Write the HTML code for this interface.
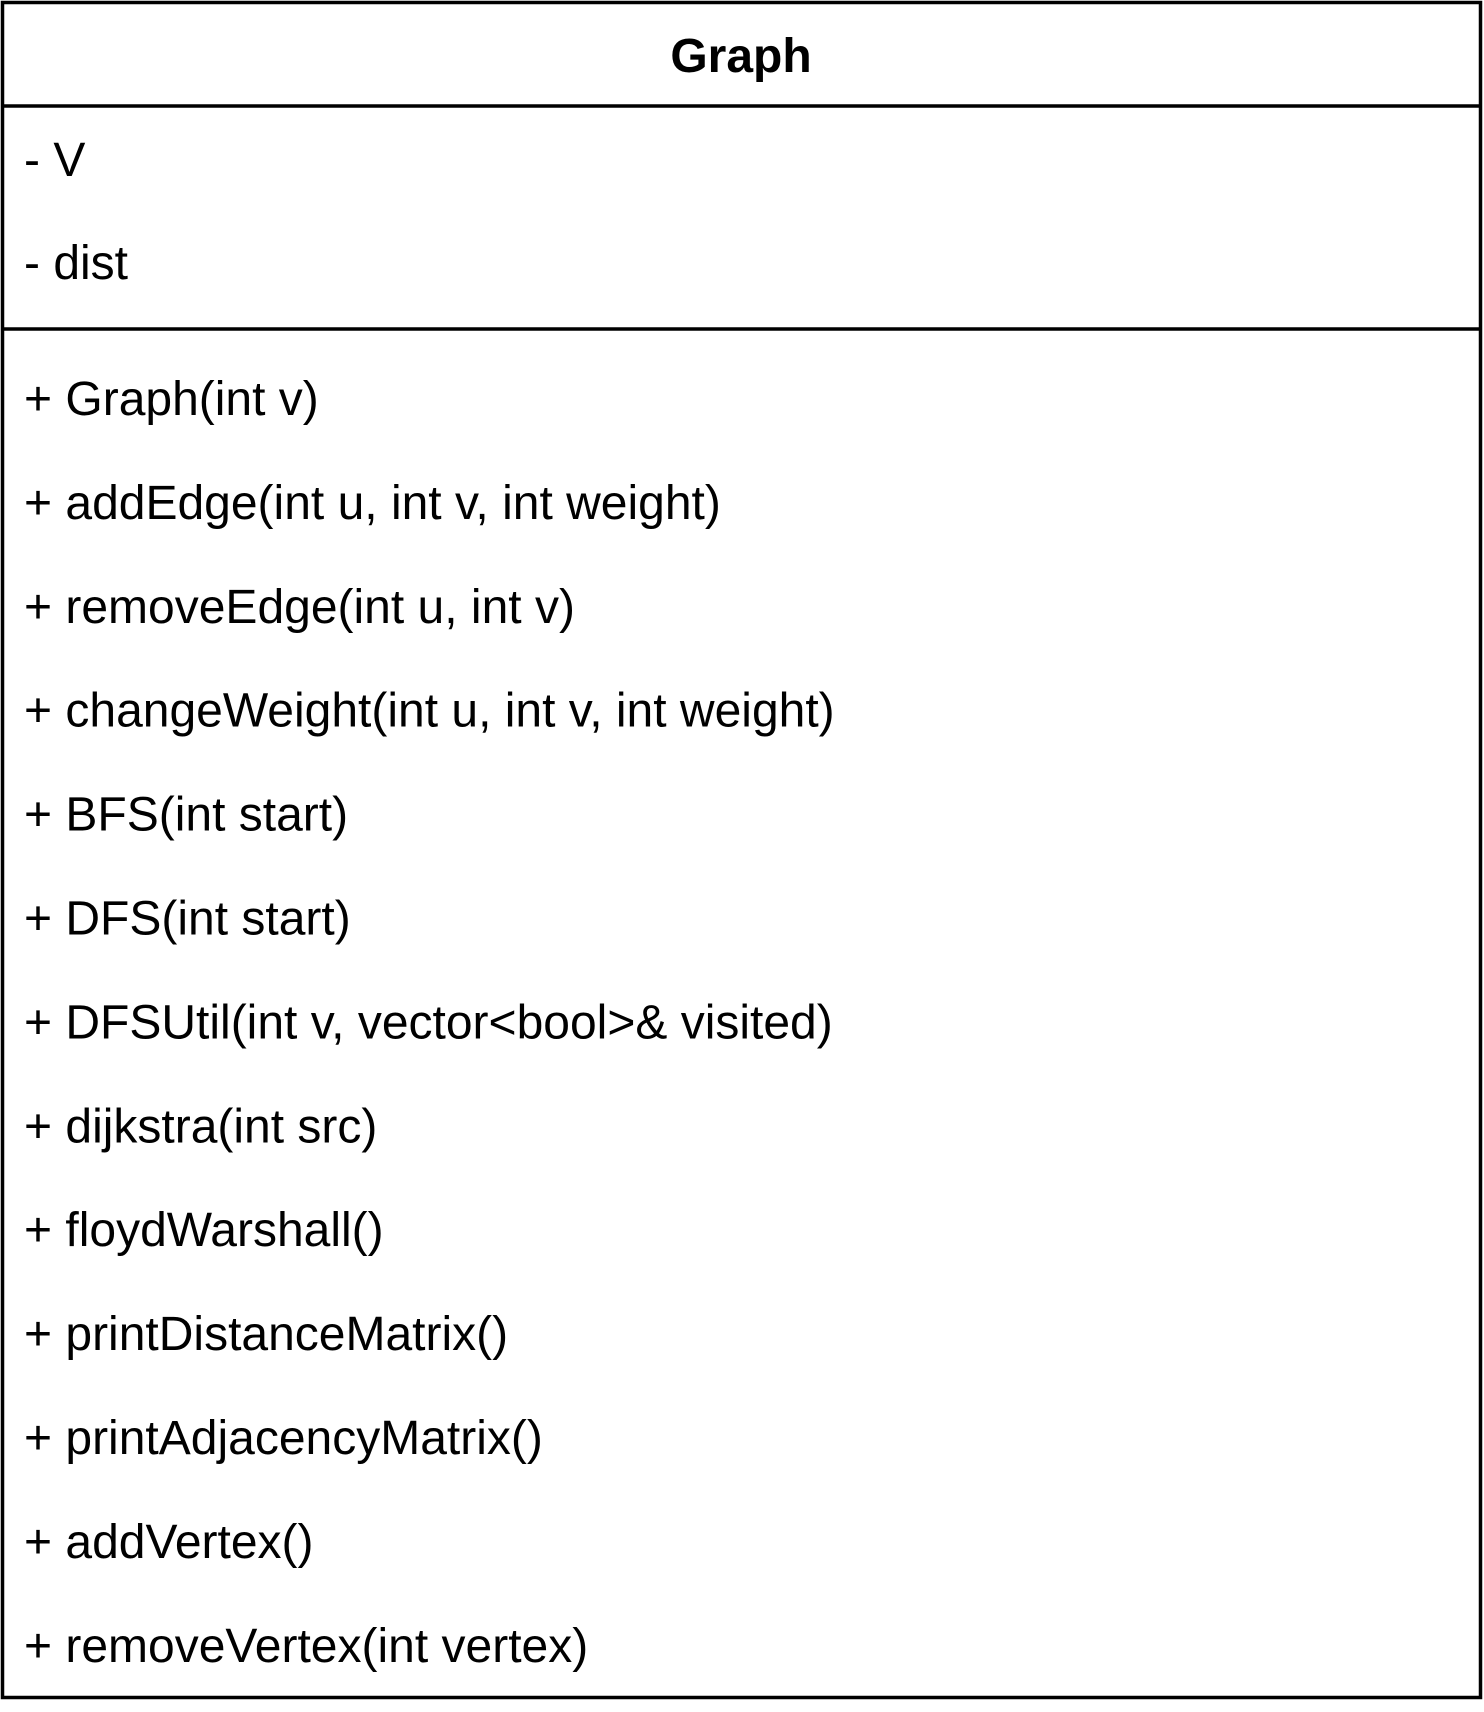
<!DOCTYPE html>
<html><head><style>
html,body{margin:0;padding:0;background:#fff;}
svg{display:block;}
text{font-family:"Liberation Sans",Arial,sans-serif;font-size:48px;fill:#000;}
</style></head><body>
<svg width="1484" height="1712" viewBox="0 0 1484 1712" xmlns="http://www.w3.org/2000/svg">
<rect x="2.5" y="2.5" width="1478" height="1695" fill="#fff" stroke="#000" stroke-width="3.5"/>
<line x1="2" y1="106" x2="1482" y2="106" stroke="#000" stroke-width="3.5"/>
<line x1="2" y1="329" x2="1482" y2="329" stroke="#000" stroke-width="3.5"/>
<text x="741" y="72" text-anchor="middle" style="font-weight:bold">Graph</text>
<text x="24" y="176">- V</text>
<text x="24" y="279">- dist</text>
<text x="24" y="415">+ Graph(int v)</text>
<text x="24" y="518.9">+ addEdge(int u, int v, int weight)</text>
<text x="24" y="622.8">+ removeEdge(int u, int v)</text>
<text x="24" y="726.7">+ changeWeight(int u, int v, int weight)</text>
<text x="24" y="830.6">+ BFS(int start)</text>
<text x="24" y="934.5">+ DFS(int start)</text>
<text x="24" y="1038.4">+ DFSUtil(int v, vector&lt;bool&gt;&amp; visited)</text>
<text x="24" y="1142.3">+ dijkstra(int src)</text>
<text x="24" y="1246.2">+ floydWarshall()</text>
<text x="24" y="1350.1">+ printDistanceMatrix()</text>
<text x="24" y="1454">+ printAdjacencyMatrix()</text>
<text x="24" y="1557.9">+ addVertex()</text>
<text x="24" y="1661.8">+ removeVertex(int vertex)</text>
</svg>
</body></html>
